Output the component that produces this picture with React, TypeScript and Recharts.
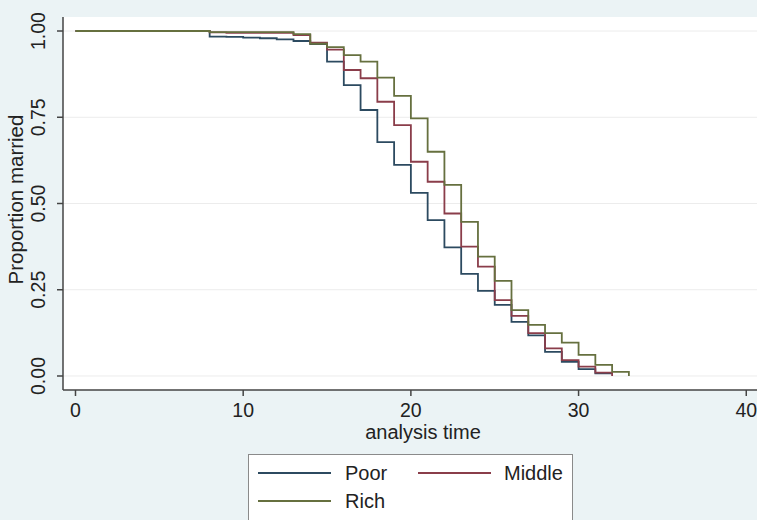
import React from 'react';
import { LineChart, Line, XAxis, YAxis, CartesianGrid, Label } from 'recharts';

const times = [0, 1, 2, 3, 4, 5, 6, 7, 8, 9, 10, 11, 12, 13, 14, 15, 16, 17, 18, 19, 20, 21, 22, 23, 24, 25, 26, 27, 28, 29, 30, 31, 32, 33];
const poor = [1, 1, 1, 1, 1, 1, 1, 1, 0.984, 0.983, 0.981, 0.979, 0.976, 0.971, 0.962, 0.911, 0.843, 0.771, 0.678, 0.612, 0.531, 0.452, 0.373, 0.296, 0.247, 0.206, 0.157, 0.118, 0.07, 0.041, 0.02, 0.008, 0.008];
const middle = [1, 1, 1, 1, 1, 1, 1, 1, 0.996, 0.995, 0.995, 0.995, 0.995, 0.988, 0.966, 0.946, 0.887, 0.863, 0.795, 0.727, 0.621, 0.563, 0.471, 0.375, 0.317, 0.22, 0.174, 0.124, 0.08, 0.046, 0.027, 0.01, 0];
const rich = [1, 1, 1, 1, 1, 1, 1, 1, 0.997, 0.997, 0.997, 0.997, 0.997, 0.991, 0.963, 0.953, 0.93, 0.911, 0.865, 0.812, 0.747, 0.65, 0.554, 0.447, 0.346, 0.276, 0.191, 0.148, 0.124, 0.097, 0.061, 0.032, 0.012, 0];
const xTicks = [0, 10, 20, 30, 40];
const yTicks = [0, 0.25, 0.5, 0.75, 1];
const seriesNames = ['Poor', 'Middle', 'Rich'];
const seriesKeys = ['poor', 'middle', 'rich'];
const seriesColors = ['#2c4a60', '#8a3d4a', '#66703f'];
const xTitle = 'analysis time';
const yTitle = 'Proportion married';

const FONT = '"Liberation Sans", Arial, Helvetica, sans-serif';

const pick = (arr: number[], i: number) => (i < arr.length ? arr[i] : null);
const data = times.map((t, i) => ({ t, poor: pick(poor, i), middle: pick(middle, i), rich: pick(rich, i) }));

const YTick = (props: any) => {
  const { x, y, payload } = props;
  const bx = x - 10;
  return (
    <text x={bx} y={y} transform={`rotate(-90, ${bx}, ${y})`} textAnchor="middle" fontSize={19.5} fill="#222" fontFamily={FONT}>
      {Number(payload.value).toFixed(2)}
    </text>
  );
};

const YTitle = (props: any) => {
  const vb = props.viewBox || { x: 0, y: 0, width: 63, height: 373 };
  const cx = vb.x + 23;
  const cy = vb.y + vb.height / 2 - 4;
  return (
    <text x={cx} y={cy} transform={`rotate(-90, ${cx}, ${cy})`} textAnchor="middle" fontSize={20.5} fill="#222" fontFamily={FONT}>
      {yTitle}
    </text>
  );
};

export default function App() {
  return (
    <div style={{ position: 'absolute', left: 0, top: 0, width: 757, height: 520, background: '#ebf3f5', overflow: 'hidden' }}>
      <LineChart width={757} height={520} data={data} margin={{ top: 17, right: 0, left: 0, bottom: 0 }}>
        <CartesianGrid vertical={false} horizontal={true} stroke="#ececec" fill="#ffffff" horizontalValues={yTicks} />
        <XAxis
          type="number"
          dataKey="t"
          domain={[-0.745, 40.64]}
          allowDataOverflow
          ticks={xTicks}
          height={130}
          tickSize={6}
          tickMargin={7}
          stroke="#444"
          strokeWidth={1.5}
          tick={{ fontSize: 19.5, fill: '#222', fontFamily: FONT }}
          interval={0}
        >
          <Label value={xTitle} position="insideTop" offset={35} dx={13} style={{ fontSize: 20, fill: '#222', fontFamily: FONT }} />
        </XAxis>
        <YAxis
          type="number"
          domain={[-0.0406, 1.0406]}
          allowDataOverflow
          ticks={yTicks}
          width={63}
          tickSize={6}
          stroke="#444"
          strokeWidth={1.5}
          tick={<YTick />}
          interval={0}
        >
          <Label content={<YTitle />} position="insideLeft" />
        </YAxis>
        {seriesKeys.map((k, i) => (
          <Line
            key={k}
            type="stepAfter"
            dataKey={k}
            name={seriesNames[i]}
            stroke={seriesColors[i]}
            strokeWidth={1.8}
            dot={false}
            activeDot={false}
            isAnimationActive={false}
            connectNulls={false}
          />
        ))}
      </LineChart>
      <div
        style={{
          position: 'absolute',
          left: 248,
          top: 454,
          width: 325,
          height: 90,
          background: '#ffffff',
          border: '1px solid #8a8a8a',
          boxSizing: 'border-box',
        }}
      >
        <svg width={325} height={90} style={{ position: 'absolute', left: -1, top: -1 }}>
          {[
            { i: 0, lx: 10, ly: 19, tx: 97 },
            { i: 1, lx: 170, ly: 19, tx: 256 },
            { i: 2, lx: 10, ly: 47, tx: 97 },
          ].map((e) => (
            <g key={e.i}>
              <line x1={e.lx} y1={e.ly} x2={e.lx + 73} y2={e.ly} stroke={seriesColors[e.i]} strokeWidth={1.8} />
              <text x={e.tx} y={e.ly} dominantBaseline="central" fontSize={20} fill="#222" fontFamily={FONT}>
                {seriesNames[e.i]}
              </text>
            </g>
          ))}
        </svg>
      </div>
    </div>
  );
}
